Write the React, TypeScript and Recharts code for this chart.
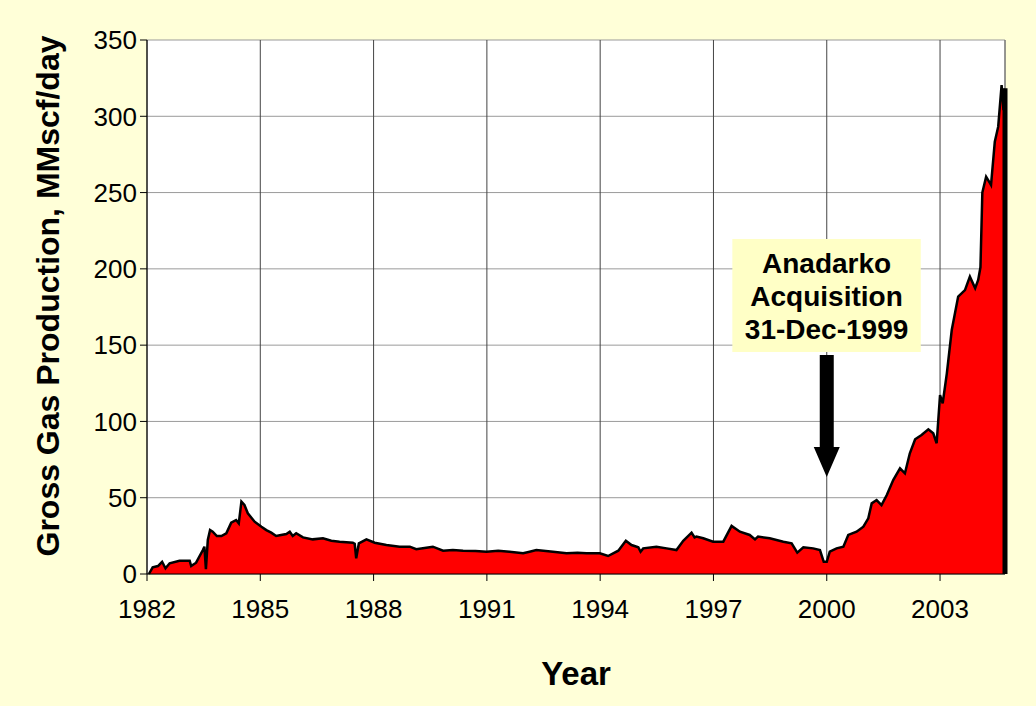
import {
  AreaChart,
  Area,
  XAxis,
  YAxis,
  CartesianGrid,
  ReferenceLine,
  ReferenceArea,
  Label,
} from "recharts"

// Monthly-ish gross gas production (MMscf/day)
const years = [
  1982.05, 1982.15, 1982.29, 1982.4, 1982.49, 1982.6, 1982.86, 1983.13, 1983.17, 1983.3,
  1983.48, 1983.52, 1983.56, 1983.61, 1983.67, 1983.74, 1983.85, 1983.97, 1984.1, 1984.23,
  1984.36, 1984.43, 1984.5, 1984.58, 1984.67, 1984.85, 1985.03, 1985.16, 1985.29, 1985.42,
  1985.55, 1985.69, 1985.78, 1985.86, 1985.95, 1986.13, 1986.39, 1986.66, 1986.88, 1987.1,
  1987.45, 1987.5, 1987.54, 1987.61, 1987.81, 1988.03, 1988.34, 1988.69, 1988.96, 1989.13,
  1989.35, 1989.57, 1989.84, 1990.1, 1990.37, 1990.7, 1990.99, 1991.3, 1991.6, 1991.96,
  1992.13, 1992.31, 1992.75, 1993.11, 1993.4, 1993.64, 1993.99, 1994.21, 1994.48, 1994.68,
  1994.83, 1995.01, 1995.07, 1995.14, 1995.49, 1995.76, 1996.02, 1996.2, 1996.42, 1996.5,
  1996.55, 1996.73, 1996.99, 1997.26, 1997.48, 1997.7, 1997.96, 1998.1, 1998.18, 1998.49,
  1998.85, 1999.07, 1999.22, 1999.38, 1999.64, 1999.82, 1999.92, 2000.0, 2000.08, 2000.26,
  2000.44, 2000.57, 2000.79, 2000.97, 2001.1, 2001.19, 2001.32, 2001.45, 2001.59, 2001.76,
  2001.94, 2002.07, 2002.2, 2002.34, 2002.51, 2002.69, 2002.82, 2002.91, 2003.0, 2003.07,
  2003.18, 2003.31, 2003.48, 2003.66, 2003.79, 2003.93, 2004.01, 2004.07, 2004.12, 2004.22,
  2004.35, 2004.45, 2004.54, 2004.63, 2004.68, 2004.72,
]

const production = [
  0, 4.4, 5.2, 8, 3.7, 7, 8.7, 8.7, 5.2, 7.4,
  15.7, 17.9, 3.1, 22.3, 28.8, 27.7, 24.9, 24.9, 26.7, 33.6,
  35.4, 33.2, 47.4, 45.2, 39.8, 34.3, 31, 28.8, 27.1, 24.9,
  25.5, 26.2, 27.7, 24.9, 26.7, 24, 22.7, 23.4, 21.8, 21.2,
  20.5, 19.8, 10.3, 20.1, 22.7, 20.5, 19, 17.9, 17.9, 16.2,
  17, 17.9, 15.3, 15.8, 15.3, 15, 14.6, 15.2, 14.6, 13.6,
  14.6, 15.7, 14.6, 13.6, 13.9, 13.6, 13.6, 11.8, 15.3, 21.8,
  19, 17.5, 14.6, 16.8, 17.9, 16.8, 15.7, 21.8, 27.1, 24,
  24.5, 23.4, 21.2, 21.2, 31.5, 27.7, 25.6, 22.7, 24.5, 23.4,
  21.2, 20.1, 14, 17.5, 16.8, 15.7, 8, 8, 14.6, 16.8,
  17.9, 25.6, 27.7, 31, 36.5, 46.3, 48.5, 45.2, 51.8, 61.6,
  69.3, 66, 79.1, 88.3, 91.1, 94.8, 92.2, 85.7, 117.3, 111.9,
  131.5, 159.9, 181.8, 186.1, 194.9, 187.3, 192.7, 201, 250, 260.4,
  255, 283.4, 293.2, 320.5, 304, 318.3,
]

const yearTicks = [1982, 1985, 1988, 1991, 1994, 1997, 2000, 2003]
const productionTicks = [0, 50, 100, 150, 200, 250, 300, 350]

const annotationLines = ["Anadarko", "Acquisition", "31-Dec-1999"]
const acquisitionYear = 2000

const FONT = '"Liberation Sans", Arial, sans-serif'
const BG = "#FFFFD8"
const BOX = "#FFFFC6"

const data = years.map((year, i) => ({ year, gas: production[i] }))
const lastYear = years[years.length - 1]
const lastValue = production[production.length - 1]

const XTick = ({ x, y, payload }: any) => (
  <text x={x} y={y + 17} dy="0.71em" textAnchor="middle" fontFamily={FONT} fontSize={26} fill="#000">
    {payload.value}
  </text>
)

const YTick = ({ x, y, payload }: any) => (
  <text x={x} y={y} dy="0.355em" textAnchor="end" fontFamily={FONT} fontSize={26} fill="#000">
    {payload.value}
  </text>
)

const Arrow = (props: any) => {
  const { x1, y1, y2 } = props
  const cx = x1
  const top = Math.min(y1, y2)
  const tip = Math.max(y1, y2)
  const headLen = 30
  const shaft = 7
  const head = 13
  const pts = [
    [cx - shaft, top],
    [cx + shaft, top],
    [cx + shaft, tip - headLen],
    [cx + head, tip - headLen],
    [cx, tip],
    [cx - head, tip - headLen],
    [cx - shaft, tip - headLen],
  ]
  return <polygon points={pts.map((p) => p.join(",")).join(" ")} fill="#000" />
}

export default function App() {
  return (
    <div
      style={{
        position: "absolute",
        left: 0,
        top: 0,
        width: 1036,
        height: 706,
        background: BG,
        fontFamily: FONT,
      }}
    >
      <AreaChart
        width={1036}
        height={706}
        data={data}
        margin={{ top: 40, right: 31, bottom: 0, left: 0 }}
      >
        <CartesianGrid vertical={false} stroke="#9a9a9a" fill="#fff" />
        <CartesianGrid horizontal={false} stroke="#444" />
        <XAxis
          dataKey="year"
          type="number"
          domain={[1982, lastYear]}
          ticks={yearTicks}
          allowDataOverflow
          height={132}
          tickSize={7}
          tickMargin={2}
          stroke="#000"
          tick={<XTick />}
        >
          <Label
            content={({ viewBox }: any) => (
              <text
                x={viewBox.x + viewBox.width / 2}
                y={viewBox.y + 111}
                textAnchor="middle"
                fontFamily={FONT}
                fontWeight="bold"
                fontSize={33}
                fill="#000"
              >
                Year
              </text>
            )}
          />
        </XAxis>
        <YAxis
          domain={[0, 350]}
          ticks={productionTicks}
          width={147}
          tickSize={7}
          tickMargin={3}
          stroke="#000"
          tick={<YTick />}
        >
          <Label
            content={({ viewBox }: any) => {
              const cx = viewBox.x + 48
              const cy = viewBox.y + viewBox.height / 2 - 11
              return (
                <text
                  x={cx}
                  y={cy}
                  transform={`rotate(-90, ${cx}, ${cy})`}
                  textAnchor="middle"
                  dominantBaseline="central"
                  fontFamily={FONT}
                  fontWeight="bold"
                  fontSize={32}
                  fill="#000"
                >
                  Gross Gas Production, MMscf/day
                </text>
              )
            }}
          />
        </YAxis>
        <ReferenceLine x={lastYear} stroke="#8a8a8a" />
        <Area
          type="linear"
          dataKey="gas"
          stroke="#000"
          strokeWidth={2.5}
          fill="#FF0000"
          fillOpacity={1}
          isAnimationActive={false}
          dot={false}
          activeDot={false}
        />
        <ReferenceLine
          segment={[
            { x: lastYear, y: 0 },
            { x: lastYear, y: lastValue },
          ]}
          stroke="#000"
          strokeWidth={5}
        />
        <ReferenceArea
          x1={1997.5}
          x2={2002.49}
          y1={145.5}
          y2={219.6}
          fill={BOX}
          fillOpacity={1}
          stroke="none"
          label={({ viewBox }: any) => (
            <g>
              {annotationLines.map((line, i) => (
                <text
                  key={line}
                  x={viewBox.x + viewBox.width / 2}
                  y={viewBox.y + 34 + i * 33}
                  textAnchor="middle"
                  fontFamily={FONT}
                  fontWeight="bold"
                  fontSize={28}
                  fill="#000"
                >
                  {line}
                </text>
              ))}
            </g>
          )}
        />
        <ReferenceLine
          segment={[
            { x: acquisitionYear, y: 143.5 },
            { x: acquisitionYear, y: 63.6 },
          ]}
          shape={Arrow}
        />
      </AreaChart>
    </div>
  )
}
